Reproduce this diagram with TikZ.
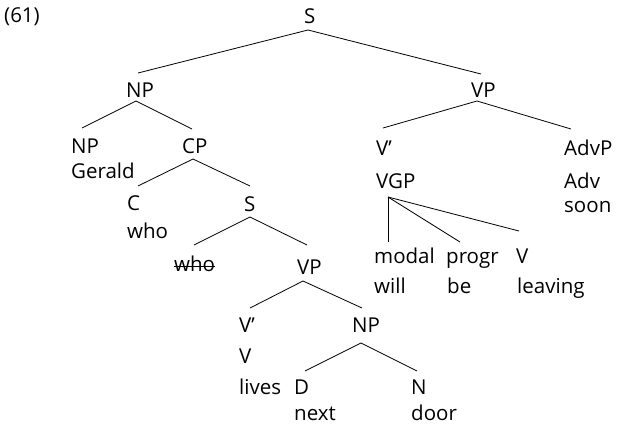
\documentclass[tikz,border=0pt]{standalone}
\usepackage{fontspec}
\setmainfont{Open Sans}
\begin{document}
\begin{tikzpicture}[x=1pt,y=-1pt,
  lbl/.style={anchor=base west, inner sep=0pt, font=\fontsize{20.5}{21}\selectfont},
  br/.style={line width=0.8pt}]
\useasboundingbox (0,0) rectangle (617,428);
\node[lbl] (ex) at (4,23) {(61)};
\node[lbl] (S) at (304,24) {S};
\node[lbl] (NP) at (126,97) {NP};
\node[lbl] (VP) at (471,97) {VP};
\node[lbl] (NPa) at (71,153) {NP};
\node[lbl] (Gerald) at (71,178) {Gerald};
\node[lbl] (CP) at (182,153) {CP};
\node[lbl] (Vb) at (376,155) {V’};
\node[lbl] (VGP) at (376,188) {VGP};
\node[lbl] (AdvP) at (564,155) {AdvP};
\node[lbl] (Adv) at (564,188) {Adv};
\node[lbl] (soon) at (564,212) {soon};
\node[lbl] (C) at (127,210) {C};
\node[lbl] (who) at (127,238) {who};
\node[lbl] (S2) at (244,211) {S};
\node[lbl] (whos) at (174,271) {who};
\node[lbl] (VP2) at (297,274) {VP};
\node[lbl] (modal) at (374,263) {modal};
\node[lbl] (progr) at (446,263) {progr};
\node[lbl] (V2) at (516,263) {V};
\node[lbl] (will) at (374,293) {will};
\node[lbl] (be) at (447,293) {be};
\node[lbl] (leaving) at (517,293) {leaving};
\node[lbl] (Vb2) at (239,332) {V’};
\node[lbl] (NP3) at (352,332) {NP};
\node[lbl] (V) at (239,363) {V};
\node[lbl] (lives) at (239,394) {lives};
\node[lbl] (D) at (294,394) {D};
\node[lbl] (N) at (411,394) {N};
\node[lbl] (next) at (294,420) {next};
\node[lbl] (door) at (411,420) {door};
\draw[br] ([shift={(4,6)}]S.base west) -- ([shift={(12,-24)}]NP.base west);
\draw[br] ([shift={(4,6)}]S.base west) -- ([shift={(10,-23)}]VP.base west);
\draw[br] ([shift={(10,4)}]NP.base west) -- ([shift={(11,-25)}]NPa.base west);
\draw[br] ([shift={(10,4)}]NP.base west) -- ([shift={(10,-24)}]CP.base west);
\draw[br] ([shift={(6,4)}]VP.base west) -- ([shift={(7,-27)}]Vb.base west);
\draw[br] ([shift={(6,4)}]VP.base west) -- ([shift={(7,-26)}]AdvP.base west);
\draw[br] ([shift={(11,6)}]CP.base west) -- ([shift={(11,-24)}]C.base west);
\draw[br] ([shift={(11,6)}]CP.base west) -- ([shift={(6,-25)}]S2.base west);
\draw[br] ([shift={(6,6)}]S2.base west) -- ([shift={(20,-26)}]whos.base west);
\draw[br] ([shift={(6,6)}]S2.base west) -- ([shift={(10,-29)}]VP2.base west);
\draw[br] ([shift={(6,7)}]VP2.base west) -- ([shift={(11,-24)}]Vb2.base west);
\draw[br] ([shift={(6,7)}]VP2.base west) -- ([shift={(10,-24)}]NP3.base west);
\draw[br] ([shift={(9,11)}]NP3.base west) -- ([shift={(11,-23)}]D.base west);
\draw[br] ([shift={(9,11)}]NP3.base west) -- ([shift={(6,-23)}]N.base west);
\draw[br] ([shift={(12,9)}]VGP.base west) -- ([shift={(14,-21)}]modal.base west);
\draw[br] ([shift={(12,9)}]VGP.base west) -- ([shift={(14,-21)}]progr.base west);
\draw[br] ([shift={(12,9)}]VGP.base west) -- ([shift={(3,-32)}]V2.base west);
\draw[br] ([shift={(0,-5)}]whos.base west) -- ([shift={(0,-5)}]whos.base east);
\end{tikzpicture}
\end{document}
